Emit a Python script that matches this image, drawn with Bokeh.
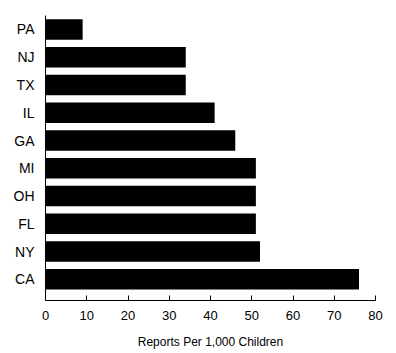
from bokeh.plotting import figure
from bokeh.models import ColumnDataSource, FixedTicker, Range1d
from bokeh.embed import file_html
from bokeh.resources import INLINE

states = ["PA", "NJ", "TX", "IL", "GA", "MI", "OH", "FL", "NY", "CA"]
reports = [9, 34, 34, 41, 46, 51, 51, 51, 52, 76]
x_ticks = [0, 10, 20, 30, 40, 50, 60, 70, 80]
x_title = "Reports Per 1,000 Children"

n = len(states)
ypos = [n - 1 - i for i in range(n)]
src = ColumnDataSource(dict(y=ypos, right=reports, state=states))

p = figure(width=396, height=353, output_backend="svg", toolbar_location=None,
           x_range=Range1d(0, 80), y_range=Range1d(-0.764, n - 0.496),
           min_border_left=45, min_border_right=21, min_border_top=15,
           min_border_bottom=53)
p.hbar(y="y", left=0, right="right", height=0.74, source=src,
       fill_color="black", line_color=None)

p.outline_line_color = None
p.xgrid.visible = False
p.ygrid.visible = False
p.background_fill_color = "white"
p.border_fill_color = "white"

font = "Liberation Sans"
xa = p.xaxis[0]
xa.ticker = FixedTicker(ticks=x_ticks)
xa.minor_tick_line_color = None
xa.major_tick_in = 5
xa.major_tick_out = 0
xa.major_tick_line_color = "black"
xa.axis_line_color = "black"
xa.major_label_text_font = font
xa.major_label_text_font_size = "13px"
xa.major_label_text_color = "black"
xa.major_label_standoff = 10
xa.axis_label = x_title
xa.axis_label_text_font = font
xa.axis_label_text_font_style = "normal"
xa.axis_label_text_font_size = "12px"
xa.axis_label_text_color = "black"
xa.axis_label_standoff = 12

ya = p.yaxis[0]
ya.ticker = FixedTicker(ticks=ypos)
ya.major_label_overrides = {yy: s for yy, s in zip(ypos, states)}
ya.minor_tick_line_color = None
ya.major_tick_line_color = None
ya.major_tick_in = 0
ya.major_tick_out = 0
ya.axis_line_color = "black"
ya.major_label_text_font = font
ya.major_label_text_font_size = "14px"
ya.major_label_text_color = "black"
ya.major_label_standoff = 11

open("out.html", "w").write(file_html(p, INLINE))
